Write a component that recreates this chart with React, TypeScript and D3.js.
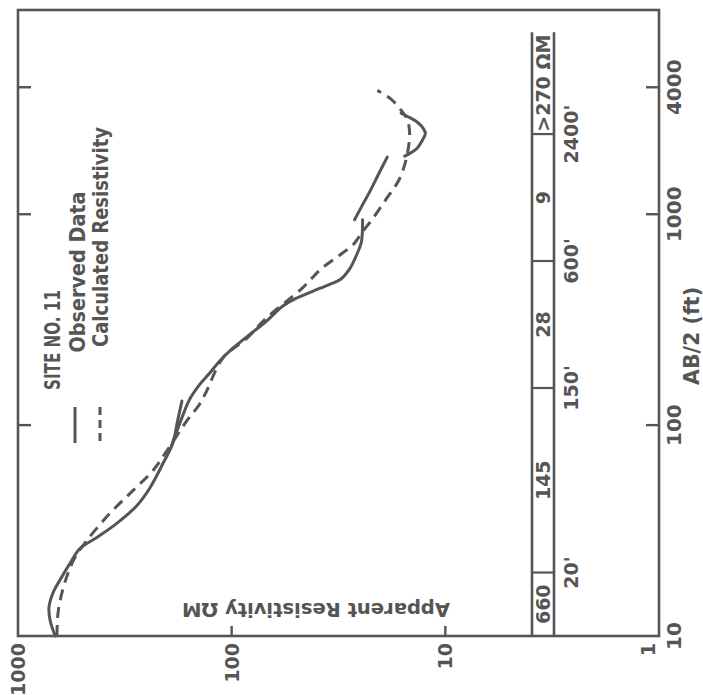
import * as d3 from 'd3';
import {useEffect, useRef} from 'react';

// AB/2 (ft) ticks on the vertical axis
const spacingTicks = [10, 100, 1000, 4000];
// apparent resistivity (ohm-m) ticks on the horizontal axis
const resistivityTicks = [1000, 100, 10, 1];

// observed data, read off the sheet as separate field segments
// each point: [AB/2 ft, apparent resistivity ohm-m]
const observedA = [
    [10, 670], [11.9, 708], [13.7, 716], [16.0, 686], [18.4, 637], [22.1, 571],
    [26.0, 513], [29.3, 428], [34.2, 345], [41.5, 278], [50.5, 241], [65.6, 210],
    [81.5, 189], [105, 179], [130, 171],
];
const observedB = [
    [80, 191], [105, 173], [133, 157], [156, 141], [176, 127], [201, 114], [231, 99],
    [270, 82], [310, 69], [365, 58], [399, 50], [430, 42], [464, 35], [490, 31],
    [552, 28], [643, 26], [741, 24.7], [891, 24.4], [941, 24.4],
];
const observedC = [
    [941, 26.6], [1084, 24.7], [1276, 22.6], [1586, 20.3], [1866, 18.7],
];
const observedD = [
    [1887, 15.5], [2036, 13.7], [2245, 12.8], [2423, 12.4], [2586, 12.8],
    [2761, 13.7], [2916, 15.1], [3012, 16.1],
];

// calculated resistivity curve for the layer model
const calculated = [
    [10, 657], [12.8, 650], [16.0, 623], [19.8, 584], [23.6, 541], [28.4, 476],
    [38.1, 372], [48.9, 290], [60.8, 234], [75.5, 201], [105, 162], [126, 141],
    [145, 131], [208, 110], [258, 85], [321, 69], [444, 47], [552, 38], [643, 31],
    [717, 27], [826, 24.4], [951, 21.9], [1182, 18.9], [1469, 16.4], [1908, 15.1],
    [2449, 14.7], [2821, 15.1], [3111, 16.1], [3506, 17.9], [3867, 20.8],
];

// layer model strip
const layerTops = [20, 150, 600, 2400];
const layerLabels = ['660', '145', '28', '9', '>270 ΩM'];
const depthLabels = ["20'", "150'", "600'", "2400'"];
const stripEnd = 7300; // ft, where the strip stops

export default function App() {
    const svgRef = useRef<SVGSVGElement>(null);

    const width = 703;
    const height = 695;

    useEffect(() => {
        const svg = d3.select(svgRef.current);
        svg.selectAll('*').remove();

        const x = d3.scaleLog().domain([1000, 1]).range([18, 659]);
        const y = d3.scaleLog().domain([10, 9300]).range([636, 10]);
        const [x0, x1] = x.range();
        const [y0, y1] = y.range();

        const ink = '#555';
        const numFont = "'DejaVu Sans', sans-serif";
        const wordFont = "'DejaVu Sans Condensed', 'DejaVu Sans', sans-serif";

        // text that reads bottom to top
        const vtext = (px, py, str, size, anchor, family, extra = {}) => {
            const t = svg.append('text')
                .attr('transform', `translate(${px},${py}) rotate(-90)`)
                .attr('text-anchor', anchor)
                .attr('font-family', family)
                .attr('font-size', size)
                .attr('font-weight', 'bold')
                .attr('fill', ink)
                .text(str);
            Object.entries(extra).forEach(([k, v]) => t.attr(k, v));
            return t;
        };

        // frame
        svg.append('rect')
            .attr('x', x0).attr('y', y1)
            .attr('width', x1 - x0).attr('height', y0 - y1)
            .attr('fill', 'none').attr('stroke', ink).attr('stroke-width', 2.6);

        // ticks on both vertical sides
        const inner = spacingTicks.filter(v => v > 10);
        svg.selectAll('.tick-r').data(inner).enter().append('line')
            .attr('x1', x1 - 13).attr('x2', x1)
            .attr('y1', d => y(d)).attr('y2', d => y(d))
            .attr('stroke', ink).attr('stroke-width', 2.4);
        svg.selectAll('.tick-l').data(inner).enter().append('line')
            .attr('x1', x0).attr('x2', x0 + 13)
            .attr('y1', d => y(d)).attr('y2', d => y(d))
            .attr('stroke', ink).attr('stroke-width', 2.4);

        // ticks on the bottom
        svg.selectAll('.tick-b').data(resistivityTicks.filter(v => v < 1000 && v > 1)).enter().append('line')
            .attr('x1', d => x(d)).attr('x2', d => x(d))
            .attr('y1', y0 - 10).attr('y2', y0)
            .attr('stroke', ink).attr('stroke-width', 2.4);

        // tick labels
        spacingTicks.forEach(v => vtext(x1 + 22, y(v), String(v), 20, 'middle', numFont));
        resistivityTicks.forEach(v => {
            const px = v === 1 ? x(v) - 11 : x(v);
            vtext(px, y0 + 7, String(v), 19, 'end', numFont, {'dominant-baseline': 'central'});
        });

        // axis titles
        vtext(699, 336, 'AB/2 (ft)', 21, 'middle', wordFont,
            {textLength: 98, lengthAdjust: 'spacingAndGlyphs'});
        svg.append('text')
            .attr('transform', 'translate(316,610) rotate(180)')
            .attr('text-anchor', 'middle')
            .attr('dominant-baseline', 'central')
            .attr('font-family', wordFont)
            .attr('font-size', 20)
            .attr('font-weight', 'bold')
            .attr('fill', ink)
            .attr('textLength', 268)
            .attr('lengthAdjust', 'spacingAndGlyphs')
            .text('Apparent  Resistivity  ΩM');

        // legend
        vtext(60, 340, 'SITE NO. 11', 22, 'middle', wordFont,
            {textLength: 100, lengthAdjust: 'spacingAndGlyphs'});
        vtext(85, 272, 'Observed  Data', 22, 'middle', wordFont,
            {textLength: 161, lengthAdjust: 'spacingAndGlyphs'});
        vtext(108, 237, 'Calculated  Resistivity', 22, 'middle', wordFont,
            {textLength: 220, lengthAdjust: 'spacingAndGlyphs'});
        svg.append('line')
            .attr('x1', 75).attr('x2', 75).attr('y1', 407).attr('y2', 443)
            .attr('stroke', ink).attr('stroke-width', 3);
        svg.append('line')
            .attr('x1', 100).attr('x2', 100).attr('y1', 407).attr('y2', 443)
            .attr('stroke', ink).attr('stroke-width', 3)
            .attr('stroke-dasharray', '8 5');

        // layer strip
        const stripL = 532;
        const stripR = 554;
        [stripL, stripR].forEach(sx => {
            svg.append('line')
                .attr('x1', sx).attr('x2', sx)
                .attr('y1', y(10)).attr('y2', y(stripEnd))
                .attr('stroke', ink).attr('stroke-width', 2.6);
        });
        svg.selectAll('.layer-top').data(layerTops).enter().append('line')
            .attr('x1', stripL).attr('x2', stripR)
            .attr('y1', d => y(d)).attr('y2', d => y(d))
            .attr('stroke', ink).attr('stroke-width', 2.2);
        const bounds = [10, ...layerTops, stripEnd];
        layerLabels.forEach((lab, i) => {
            const mid = (y(bounds[i]) + y(bounds[i + 1])) / 2;
            vtext((stripL + stripR) / 2, mid, lab, 19, 'middle', numFont, {'dominant-baseline': 'central'});
        });
        layerTops.forEach((d, i) => vtext(578, y(d), depthLabels[i], 19, 'middle', numFont));

        // curves
        const line = d3.line()
            .x(d => x(d[1]))
            .y(d => y(d[0]))
            .curve(d3.curveCatmullRom.alpha(0.5));

        [observedA, observedB, observedC, observedD].forEach(seg => {
            svg.append('path')
                .attr('d', line(seg))
                .attr('fill', 'none')
                .attr('stroke', ink)
                .attr('stroke-width', 3)
                .attr('stroke-linecap', 'round');
        });

        svg.append('path')
            .attr('d', line(calculated))
            .attr('fill', 'none')
            .attr('stroke', ink)
            .attr('stroke-width', 3)
            .attr('stroke-dasharray', '11 7');
    }, []);

    return (
        <div style={{position: 'absolute', left: 0, top: 0}}>
            <svg ref={svgRef} width={width} height={height} style={{display: 'block', background: '#fff'}}></svg>
        </div>
    );
}
